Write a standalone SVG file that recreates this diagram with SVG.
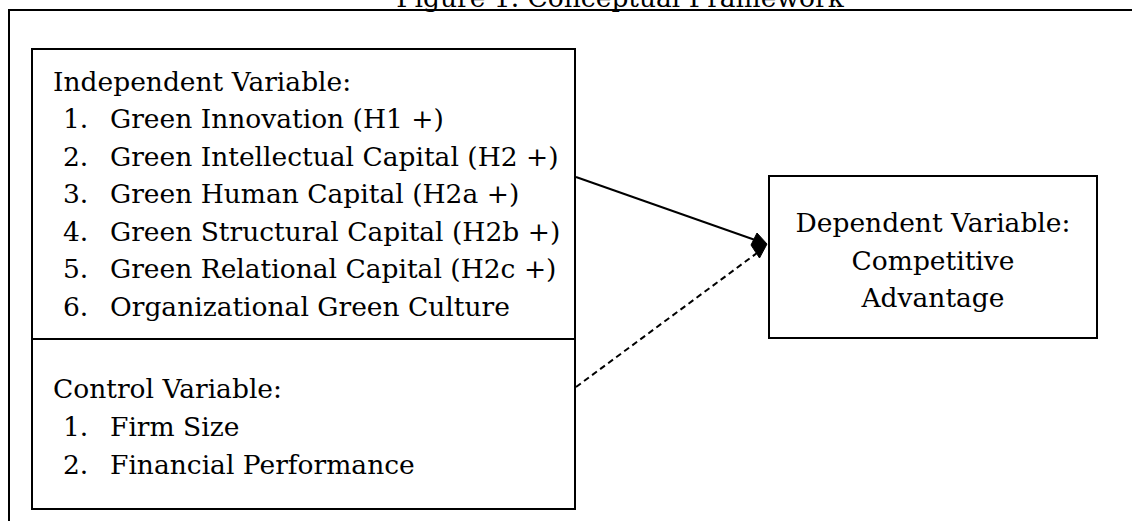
<svg xmlns="http://www.w3.org/2000/svg" width="1132" height="521" viewBox="0 0 1132 521">
<style>
  .t { font-family: "DejaVu Serif", "Liberation Serif", serif; font-size: 26.5px; fill: #000; }
  .box { fill: #fff; stroke: #000; stroke-width: 2; }
  .frame { fill: none; stroke: #000; stroke-width: 2; }
  .conn { stroke: #000; stroke-width: 2; fill: none; }
  .dash { stroke-dasharray: 6 4; }
</style>
<rect width="1132" height="521" fill="#fff"/>
<g id="title">
  <text class="t" x="620" y="7" text-anchor="middle">Figure 1. Conceptual Framework</text>
</g>
<g id="frame">
  <path class="frame" d="M9,521 V10 H1134"/>
</g>
<g id="independent">
  <rect class="box" x="32" y="49" width="543" height="290"/>
  <text class="t" x="53" y="90.5">Independent Variable:</text>
  <text class="t" x="63" y="128">1.</text><text class="t" x="110" y="128">Green Innovation (H1 +)</text>
  <text class="t" x="63" y="165.5">2.</text><text class="t" x="110" y="165.5">Green Intellectual Capital (H2 +)</text>
  <text class="t" x="63" y="203">3.</text><text class="t" x="110" y="203">Green Human Capital (H2a +)</text>
  <text class="t" x="63" y="240.5">4.</text><text class="t" x="110" y="240.5">Green Structural Capital (H2b +)</text>
  <text class="t" x="63" y="278">5.</text><text class="t" x="110" y="278">Green Relational Capital (H2c +)</text>
  <text class="t" x="63" y="315.5">6.</text><text class="t" x="110" y="315.5">Organizational Green Culture</text>
</g>
<g id="control">
  <rect class="box" x="32" y="339" width="543" height="170"/>
  <text class="t" x="53" y="398">Control Variable:</text>
  <text class="t" x="63" y="436">1.</text><text class="t" x="110" y="436">Firm Size</text>
  <text class="t" x="63" y="473.5">2.</text><text class="t" x="110" y="473.5">Financial Performance</text>
</g>
<g id="dependent">
  <rect class="box" x="769" y="176" width="328" height="162"/>
  <text class="t" x="933" y="232" text-anchor="middle">Dependent Variable:</text>
  <text class="t" x="933" y="269.5" text-anchor="middle">Competitive</text>
  <text class="t" x="933" y="307" text-anchor="middle">Advantage</text>
</g>
<g id="connectors">
  <line class="conn" x1="576" y1="177" x2="758" y2="241"/>
  <line class="conn dash" x1="576" y1="387" x2="757" y2="253"/>
  <polygon points="757,233 767,244 759.5,258 751,245" fill="#000" stroke="#000" stroke-width="1"/>
</g>
</svg>
